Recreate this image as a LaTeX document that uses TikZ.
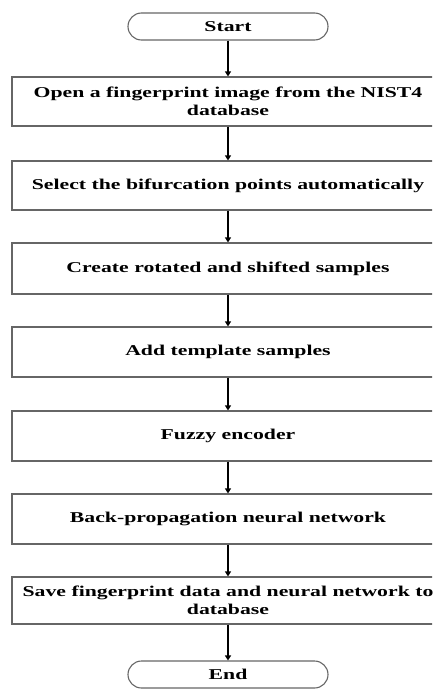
\documentclass[tikz,border=0pt]{standalone}
\usepackage{fontspec}
\setmainfont{Liberation Serif}
\usetikzlibrary{arrows.meta}
\newcommand{\sx}[1]{\scalebox{1.45}[1]{#1}}
\tikzset{
  stepbox/.style={draw=black!60, line width=1.2pt, minimum width=432pt, inner sep=0pt,
    align=center, font=\fontsize{15}{18}\selectfont\bfseries},
  termbox/.style={draw=black!60, line width=1.1pt, minimum width=200pt, minimum height=27pt,
    rounded corners=13.5pt, inner sep=0pt, font=\fontsize{15}{18}\selectfont\bfseries},
  flow/.style={line width=1.4pt, -{Triangle[length=5pt,width=6pt]}}
}
\begin{document}
\begin{tikzpicture}[x=1pt,y=1pt]
\useasboundingbox (0,0) rectangle (432,-691);
\clip (0,0) rectangle (432,-691);
\fill[white] (0,0) rectangle (432,-691);
\node[termbox] (start) at (228,-26.5) {\sx{Start}};
\node[stepbox, minimum height=49pt] (b1) at (228,-101.5) {\sx{Open a fingerprint image from the NIST4}\\\sx{database}};
\node[stepbox, minimum height=49pt] (b2) at (228,-185.5) {\sx{Select the bifurcation points automatically}};
\node[stepbox, minimum height=51pt] (b3) at (228,-268.5) {\sx{Create rotated and shifted samples}};
\node[stepbox, minimum height=50pt] (b4) at (228,-352) {\sx{Add template samples}};
\node[stepbox, minimum height=50pt] (b5) at (228,-436) {\sx{Fuzzy encoder}};
\node[stepbox, minimum height=50pt] (b6) at (228,-519) {\sx{Back-propagation neural network}};
\node[stepbox, minimum height=47pt] (b7) at (228,-600.5) {\sx{Save fingerprint data and neural network to}\\\sx{database}};
\node[termbox] (end) at (228,-674.5) {\sx{End}};
\draw[flow] (start) -- (b1);
\draw[flow] (b1) -- (b2);
\draw[flow] (b2) -- (b3);
\draw[flow] (b3) -- (b4);
\draw[flow] (b4) -- (b5);
\draw[flow] (b5) -- (b6);
\draw[flow] (b6) -- (b7);
\draw[flow] (b7) -- (end);
\end{tikzpicture}
\end{document}
